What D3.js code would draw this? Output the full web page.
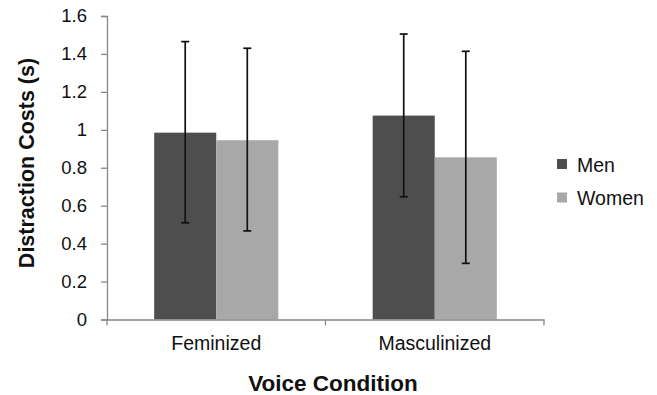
<!DOCTYPE html>
<html lang="en">
<head>
<meta charset="UTF-8">
<title>Distraction Costs</title>
<script src="https://d3js.org/d3.v7.min.js"></script>
<style>
  body { margin: 0; background: #fff; }
  text { font-family: "Liberation Sans", Arial, sans-serif; fill: #111; }
</style>
</head>
<body>
<script>
// data
const conditions = ["Feminized", "Masculinized"];
const groups = ["Men", "Women"];
const menMeans = [0.985, 1.075];
const womenMeans = [0.945, 0.855];
const menLow = [0.51, 0.647];
const menHigh = [1.465, 1.505];
const womenLow = [0.467, 0.296];
const womenHigh = [1.43, 1.414];
const yTicks = [0, 0.2, 0.4, 0.6, 0.8, 1, 1.2, 1.4, 1.6];
const colors = ["#4e4e4e", "#a8a8a8"];

const width = 657, height = 395;
const svg = d3.select("body").append("svg")
  .attr("width", width)
  .attr("height", height);

const plotLeft = 107, plotRight = 544, plotTop = 16, plotBottom = 319.5;

const x = d3.scaleBand().domain(conditions).range([plotLeft, plotRight]).paddingInner(0).paddingOuter(0);
const xInner = d3.scaleBand().domain(groups).range([0, x.bandwidth()]).paddingOuter(0.76).paddingInner(0);
const y = d3.scaleLinear().domain([0, 1.6]).range([plotBottom, plotTop]);

// build rows from arrays
const rows = [];
conditions.forEach((c, i) => {
  rows.push({ cond: c, grp: "Men", v: menMeans[i], lo: menLow[i], hi: menHigh[i] });
  rows.push({ cond: c, grp: "Women", v: womenMeans[i], lo: womenLow[i], hi: womenHigh[i] });
});
const color = d3.scaleOrdinal().domain(groups).range(colors);

// bars
svg.append("g").selectAll("rect")
  .data(rows)
  .enter().append("rect")
  .attr("x", d => x(d.cond) + xInner(d.grp))
  .attr("y", d => y(d.v))
  .attr("width", xInner.bandwidth())
  .attr("height", d => y(0) - y(d.v))
  .attr("fill", d => color(d.grp));

// y axis
const yAxis = svg.append("g")
  .attr("transform", `translate(${plotLeft},0)`)
  .call(d3.axisLeft(y).tickValues(yTicks).tickFormat(d3.format("")).tickSize(6).tickPadding(14));
yAxis.select(".domain").attr("stroke", "#888").attr("stroke-width", 1.3);
yAxis.selectAll(".tick line").attr("stroke", "#888").attr("stroke-width", 1.3);
yAxis.selectAll(".tick text").attr("font-size", 18.5).attr("fill", "#111");

// x axis
const xAxis = svg.append("g")
  .attr("transform", `translate(0,${plotBottom})`)
  .call(d3.axisBottom(x).tickSize(0).tickPadding(17));
xAxis.select(".domain").attr("stroke", "#888").attr("stroke-width", 1.3);
xAxis.selectAll(".tick text").attr("font-size", 19.5).attr("fill", "#111");
// boundary ticks between categories
const bounds = [plotLeft].concat(conditions.map(c => x(c) + x.bandwidth()));
xAxis.selectAll(".bound")
  .data(bounds)
  .enter().append("line")
  .attr("x1", d => d).attr("x2", d => d)
  .attr("y1", 0).attr("y2", 6)
  .attr("stroke", "#888").attr("stroke-width", 1.3);

// error bars
const eb = svg.append("g").attr("stroke", "#111").attr("stroke-width", 1.7);
rows.forEach(d => {
  const cx = x(d.cond) + xInner(d.grp) + xInner.bandwidth() / 2;
  eb.append("line").attr("x1", cx).attr("x2", cx).attr("y1", y(d.hi)).attr("y2", y(d.lo));
  eb.append("line").attr("x1", cx - 4).attr("x2", cx + 4).attr("y1", y(d.hi)).attr("y2", y(d.hi));
  eb.append("line").attr("x1", cx - 4).attr("x2", cx + 4).attr("y1", y(d.lo)).attr("y2", y(d.lo));
});

// axis titles
svg.append("text")
  .attr("transform", "translate(34,163) rotate(-90)")
  .attr("text-anchor", "middle")
  .attr("font-size", 21.5)
  .attr("font-weight", "bold")
  .text("Distraction Costs (s)");

svg.append("text")
  .attr("x", 333)
  .attr("y", 391)
  .attr("text-anchor", "middle")
  .attr("font-size", 22.5)
  .attr("font-weight", "bold")
  .text("Voice Condition");

// legend
const legend = svg.append("g").attr("transform", "translate(557,159)");
groups.forEach((g, i) => {
  const row = legend.append("g").attr("transform", `translate(0,${i * 33.5})`);
  row.append("rect").attr("width", 10).attr("height", 10).attr("fill", color(g));
  row.append("text").attr("x", 20).attr("y", 12.5).attr("font-size", 19.5).text(g);
});
</script>
</body>
</html>
